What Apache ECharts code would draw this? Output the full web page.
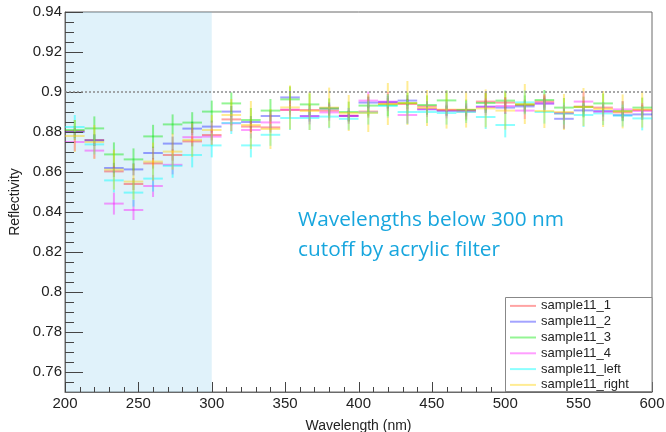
<!DOCTYPE html>
<html>
<head>
<meta charset="utf-8">
<script src="https://cdn.jsdelivr.net/npm/echarts@6/dist/echarts.min.js"></script>
<style>
  html, body { margin: 0; padding: 0; background: #fff; }
  #chart { width: 666px; height: 432px; }
</style>
</head>
<body>
<div id="chart"></div>
<script>
// Bin centres (nm); every bin is 400/30 nm wide
const binCenters = [206.67, 220, 233.33, 246.67, 260, 273.33, 286.67, 300, 313.33, 326.67,
  340, 353.33, 366.67, 380, 393.33, 406.67, 420, 433.33, 446.67, 460,
  473.33, 486.67, 500, 513.33, 526.67, 540, 553.33, 566.67, 580, 593.33];
const binWidth = 13.333;

// Region blocked by the acrylic filter (nm) and the reference level
const cutoffRange = [200, 300];
const referenceLevel = 0.9;

// Reflectivity per sample
const sample11_1 = [0.8805, 0.8760, 0.8603, 0.8540, 0.8643, 0.8685, 0.8753, 0.8785, 0.8863, 0.8827,
  0.8823, 0.8910, 0.8910, 0.8907, 0.8882, 0.8902, 0.8943, 0.8940, 0.8928, 0.8910,
  0.8903, 0.8952, 0.8947, 0.8935, 0.8952, 0.8893, 0.8927, 0.8922, 0.8898, 0.8910];
const sample11_2 = [0.8800, 0.8758, 0.8620, 0.8613, 0.8695, 0.8742, 0.8817, 0.8827, 0.8902, 0.8850,
  0.8880, 0.8973, 0.8880, 0.8918, 0.8880, 0.8947, 0.8950, 0.8957, 0.8913, 0.8905,
  0.8910, 0.8927, 0.8922, 0.8928, 0.8942, 0.8866, 0.8908, 0.8905, 0.8884, 0.8888];
const sample11_3 = [0.8810, 0.8818, 0.8688, 0.8663, 0.8778, 0.8838, 0.8847, 0.8902, 0.8943, 0.8860,
  0.8907, 0.8963, 0.8938, 0.8918, 0.8900, 0.8932, 0.8935, 0.8945, 0.8935, 0.8958,
  0.8910, 0.8945, 0.8957, 0.8938, 0.8960, 0.8922, 0.8925, 0.8943, 0.8905, 0.8922];
const sample11_4 = [0.8750, 0.8707, 0.8442, 0.8410, 0.8530, 0.8636, 0.8774, 0.8777, 0.8843, 0.8810,
  0.8848, 0.8912, 0.8878, 0.8898, 0.8880, 0.8957, 0.8952, 0.8885, 0.8915, 0.8910,
  0.8905, 0.8925, 0.8930, 0.8907, 0.8943, 0.8895, 0.8952, 0.8900, 0.8913, 0.8905];
const sample11_left = [0.8825, 0.8738, 0.8558, 0.8497, 0.8567, 0.8631, 0.8685, 0.8733, 0.8845, 0.8733,
  0.8786, 0.8870, 0.8870, 0.8877, 0.8866, 0.8897, 0.8930, 0.8900, 0.8900, 0.8895,
  0.8900, 0.8875, 0.8835, 0.8948, 0.8900, 0.8892, 0.8885, 0.8893, 0.8882, 0.8868];
const sample11_right = [0.8780, 0.8750, 0.8612, 0.8552, 0.8652, 0.8702, 0.8760, 0.8810, 0.8885, 0.8835,
  0.8815, 0.8923, 0.8905, 0.8922, 0.8895, 0.8895, 0.8940, 0.8945, 0.8920, 0.8912,
  0.8912, 0.8918, 0.8907, 0.8940, 0.8905, 0.8900, 0.8925, 0.8915, 0.8903, 0.8912];

// Statistical uncertainty per bin
const err11_1 = [0.0025, 0.0030, 0.0028, 0.0030, 0.0026, 0.0028, 0.0025, 0.0027, 0.0030, 0.0028,
  0.0026, 0.0027, 0.0025, 0.0028, 0.0026, 0.0030, 0.0028, 0.0026, 0.0025, 0.0027,
  0.0026, 0.0045, 0.0028, 0.0027, 0.0030, 0.0026, 0.0028, 0.0025, 0.0027, 0.0026];
const err11_2 = [0.0030, 0.0028, 0.0026, 0.0030, 0.0032, 0.0035, 0.0034, 0.0030, 0.0028, 0.0030,
  0.0027, 0.0032, 0.0028, 0.0030, 0.0026, 0.0028, 0.0030, 0.0027, 0.0028, 0.0026,
  0.0028, 0.0030, 0.0032, 0.0028, 0.0030, 0.0050, 0.0030, 0.0028, 0.0030, 0.0028];
const err11_3 = [0.0050, 0.0060, 0.0060, 0.0055, 0.0058, 0.0050, 0.0052, 0.0055, 0.0055, 0.0060,
  0.0058, 0.0065, 0.0055, 0.0050, 0.0052, 0.0050, 0.0055, 0.0052, 0.0048, 0.0050,
  0.0052, 0.0050, 0.0050, 0.0045, 0.0050, 0.0048, 0.0052, 0.0050, 0.0048, 0.0050];
const err11_4 = [0.0045, 0.0040, 0.0055, 0.0050, 0.0055, 0.0048, 0.0045, 0.0040, 0.0040, 0.0042,
  0.0040, 0.0045, 0.0040, 0.0042, 0.0040, 0.0045, 0.0048, 0.0042, 0.0040, 0.0042,
  0.0040, 0.0042, 0.0040, 0.0042, 0.0045, 0.0040, 0.0050, 0.0045, 0.0042, 0.0040];
const err11_left = [0.0060, 0.0050, 0.0060, 0.0070, 0.0065, 0.0060, 0.0062, 0.0060, 0.0055, 0.0060,
  0.0055, 0.0060, 0.0060, 0.0058, 0.0055, 0.0060, 0.0058, 0.0060, 0.0055, 0.0058,
  0.0055, 0.0060, 0.0062, 0.0060, 0.0058, 0.0055, 0.0060, 0.0058, 0.0055, 0.0060];
const err11_right = [0.0080, 0.0085, 0.0100, 0.0090, 0.0095, 0.0090, 0.0085, 0.0075, 0.0080, 0.0120,
  0.0100, 0.0110, 0.0095, 0.0100, 0.0090, 0.0095, 0.0105, 0.0110, 0.0090, 0.0095,
  0.0090, 0.0095, 0.0095, 0.0100, 0.0085, 0.0090, 0.0095, 0.0090, 0.0085, 0.0090];

const sampleNames = ['sample11_1', 'sample11_2', 'sample11_3', 'sample11_4', 'sample11_left', 'sample11_right'];
const sampleValues = [sample11_1, sample11_2, sample11_3, sample11_4, sample11_left, sample11_right];
const sampleErrors = [err11_1, err11_2, err11_3, err11_4, err11_left, err11_right];
const sampleColors = ['rgba(255,0,0,0.36)', 'rgba(0,0,255,0.36)', 'rgba(0,230,0,0.42)',
  'rgba(255,0,255,0.38)', 'rgba(0,255,255,0.45)', 'rgba(255,210,0,0.42)'];

// Tick positions
const xMajorTicks = [200, 250, 300, 350, 400, 450, 500, 550, 600];
const xMinorTicks = [210, 220, 230, 240, 260, 270, 280, 290, 310, 320, 330, 340, 360, 370, 380, 390,
  410, 420, 430, 440, 460, 470, 480, 490, 510, 520, 530, 540, 560, 570, 580, 590];
const yMajorTicks = [0.76, 0.78, 0.8, 0.82, 0.84, 0.86, 0.88, 0.9, 0.92, 0.94];
const yMinorTicks = [0.755, 0.765, 0.77, 0.775, 0.785, 0.79, 0.795, 0.805, 0.81, 0.815, 0.825, 0.83, 0.835,
  0.845, 0.85, 0.855, 0.865, 0.87, 0.875, 0.885, 0.89, 0.895, 0.905, 0.91, 0.915, 0.925, 0.93, 0.935];

const X_MIN = 200, X_MAX = 600, Y_MIN = 0.75, Y_MAX = 0.94;
const TICK_COLOR = '#444';

// Histogram cross: horizontal bar across the bin and vertical error bar
function makeCross(color) {
  return function (params, api) {
    const x = api.value(0), y = api.value(1), e = api.value(2);
    const a = api.coord([x - binWidth / 2, y]);
    const b = api.coord([x + binWidth / 2, y]);
    const t = api.coord([x, y + e]);
    const d = api.coord([x, y - e]);
    const style = { stroke: color, lineWidth: 2 };
    return {
      type: 'group',
      children: [
        { type: 'line', shape: { x1: a[0], y1: a[1], x2: b[0], y2: b[1] }, style: style },
        { type: 'line', shape: { x1: t[0], y1: t[1], x2: d[0], y2: d[1] }, style: style }
      ]
    };
  };
}

const series = sampleNames.map(function (name, i) {
  return {
    name: name,
    type: 'custom',
    color: sampleColors[i],
    itemStyle: { color: sampleColors[i] },
    z: 3,
    clip: true,
    renderItem: makeCross(sampleColors[i]),
    data: binCenters.map(function (c, k) { return [c, sampleValues[i][k], sampleErrors[i][k]]; })
  };
});

// Shaded band for the filtered wavelengths (translucent so axis ticks stay visible)
series.unshift({
  name: 'cutoff',
  type: 'custom',
  z: 0,
  silent: true,
  renderItem: function (params, api) {
    const p0 = api.coord([api.value(0), Y_MAX]);
    const p1 = api.coord([api.value(1), Y_MIN]);
    return {
      type: 'rect',
      shape: { x: p0[0], y: p0[1], width: p1[0] - p0[0], height: p1[1] - p0[1] },
      style: { fill: 'rgba(120,200,235,0.23)' }
    };
  },
  data: [[cutoffRange[0], cutoffRange[1]]],
  markLine: {
    silent: true,
    symbol: 'none',
    label: { show: false },
    lineStyle: { color: '#8a8a8a', type: [2, 2], width: 1.5 },
    data: [{ yAxis: referenceLevel }]
  }
});

// All inward tick marks in one path: [axis (0 = bottom, 1 = left), value, length px]
const tickData = []
  .concat(xMajorTicks.map(function (v) { return [0, v, 10]; }))
  .concat(xMinorTicks.map(function (v) { return [0, v, 5]; }))
  .concat(yMajorTicks.map(function (v) { return [1, v, 18]; }))
  .concat(yMinorTicks.map(function (v) { return [1, v, 9]; }));

series.push({
  name: 'ticks',
  type: 'custom',
  z: 4,
  silent: true,
  clip: false,
  coordinateSystem: 'cartesian2d',
  renderItem: function (params, api) {
    if (params.dataIndex !== 0) { return null; }
    const cmds = [];
    tickData.forEach(function (t) {
      if (t[0] === 0) {
        const p = api.coord([t[1], Y_MIN]);
        const x = Math.round(p[0]) + 0.5, y = Math.round(p[1]);
        cmds.push('M' + x + ',' + y + 'L' + x + ',' + (y - t[2]));
      } else {
        const p = api.coord([X_MIN, t[1]]);
        const x = Math.round(p[0]), y = Math.round(p[1]) + 0.5;
        cmds.push('M' + x + ',' + y + 'L' + (x + t[2]) + ',' + y);
      }
    });
    return {
      type: 'path',
      shape: { pathData: cmds.join(''), layout: 'center' in {} ? undefined : undefined },
      style: { stroke: TICK_COLOR, lineWidth: 1, fill: null }
    };
  },
  data: [[X_MIN, Y_MIN]]
});

const chart = echarts.init(document.getElementById('chart'), null, { renderer: 'canvas' });
const fontFamily = 'Liberation Sans, Arial, sans-serif';
const tickFont = { fontFamily: fontFamily, fontSize: 15, color: '#222' };
const titleFont = { fontFamily: fontFamily, fontSize: 14, color: '#222' };

chart.setOption({
  animation: false,
  backgroundColor: '#fff',
  grid: { left: 65, right: 14, top: 12, bottom: 40, containLabel: false, outerBoundsMode: 'none',
    show: true, borderColor: '#6a6a6a', borderWidth: 1 },
  xAxis: {
    type: 'value', min: X_MIN, max: X_MAX, interval: 50,
    name: 'Wavelength (nm)', nameLocation: 'middle', nameGap: 27,
    nameTextStyle: titleFont,
    axisLine: { lineStyle: { color: '#6a6a6a' } },
    axisTick: { show: false },
    axisLabel: Object.assign({ margin: 4 }, tickFont),
    splitLine: { show: false }
  },
  yAxis: {
    type: 'value', min: Y_MIN, max: Y_MAX,
    name: 'Reflectivity', nameLocation: 'middle', nameGap: 42, nameRotate: 90,
    nameTextStyle: titleFont,
    axisLine: { show: true, lineStyle: { color: '#6a6a6a' } },
    axisTick: { show: false },
    axisLabel: Object.assign({ margin: 3, customValues: yMajorTicks,
      formatter: function (v) { return String(+v.toFixed(2)); } }, tickFont),
    splitLine: { show: false }
  },
  legend: {
    orient: 'vertical', left: 510, top: 298, z: 12,
    padding: 0, itemGap: 0, itemWidth: 26, itemHeight: 2, icon: 'rect',
    data: sampleNames,
    textStyle: { fontFamily: fontFamily, fontSize: 13, color: '#222', lineHeight: 15.8 }
  },
  graphic: [{
    type: 'rect', z: 11, silent: true,
    shape: { x: 505.5, y: 297.5, width: 146.5, height: 94 },
    style: { fill: '#fff', stroke: '#888', lineWidth: 1 }
  }, {
    type: 'text', left: 298, top: 205, z: 12, silent: true,
    style: {
      text: 'Wavelengths below 300 nm\ncutoff by acrylic filter',
      fontFamily: 'Open Sans, sans-serif', fontSize: 20.8, lineHeight: 30, fill: '#17a6de'
    }
  }],
  series: series
});
</script>
</body>
</html>
